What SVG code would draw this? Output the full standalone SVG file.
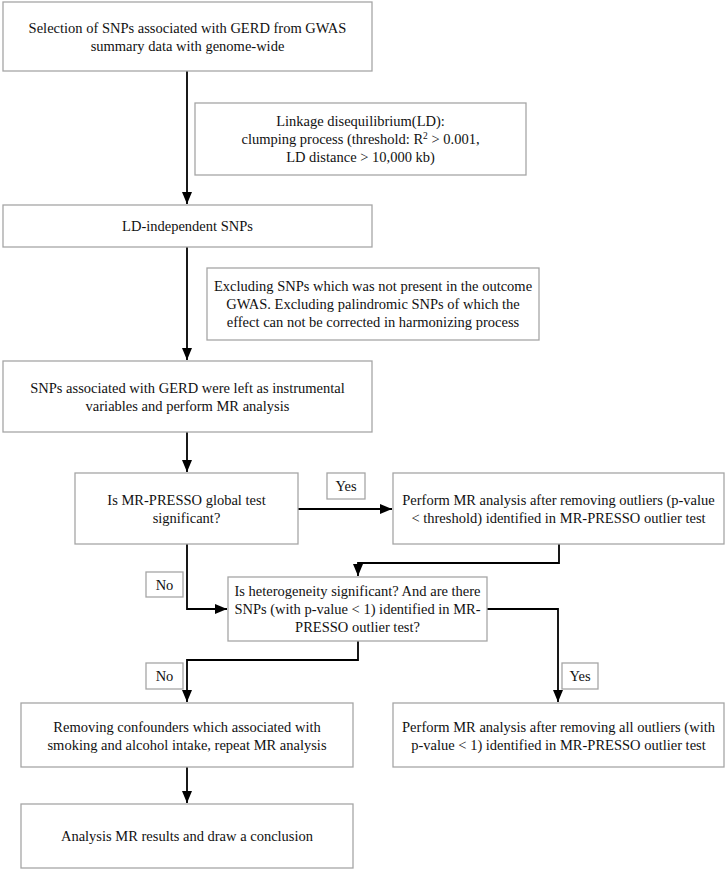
<svg xmlns="http://www.w3.org/2000/svg" width="726" height="870" viewBox="0 0 726 870">
<style>
  .box { fill: #ffffff; stroke: #a6a6a6; stroke-width: 1.3; }
  .lbl { fill: #ffffff; stroke: #a6a6a6; stroke-width: 1.3; }
  .t { font-family: "Liberation Serif", "Times New Roman", serif; font-size: 14.5px; fill: #111111; text-anchor: middle; }
  .c { fill: none; stroke: #000000; stroke-width: 1.8; }
</style>
<defs>
  <marker id="ah" markerUnits="userSpaceOnUse" markerWidth="12" markerHeight="10" refX="12" refY="5" orient="auto">
    <path d="M0,0 L12,5 L0,10 z" fill="#000000"/>
  </marker>
</defs>
<rect width="726" height="870" fill="#ffffff"/>

<g id="connectors">
  <path class="c" d="M187,71 V204" marker-end="url(#ah)"/>
  <path class="c" d="M187,247 V360" marker-end="url(#ah)"/>
  <path class="c" d="M187,432 V472" marker-end="url(#ah)"/>
  <path class="c" d="M298,509 H392" marker-end="url(#ah)"/>
  <path class="c" d="M559,544 V563 H358 V576" marker-end="url(#ah)"/>
  <path class="c" d="M187,544 V609 H227" marker-end="url(#ah)"/>
  <path class="c" d="M487,609 H558 V702" marker-end="url(#ah)"/>
  <path class="c" d="M358,641 V660 H187 V702" marker-end="url(#ah)"/>
  <path class="c" d="M187,767 V803" marker-end="url(#ah)"/>
</g>

<g id="n1">
  <rect class="box" x="3" y="2" width="369" height="69"/>
  <text class="t" x="187.5" y="32.5">Selection of SNPs associated with GERD from GWAS</text>
  <text class="t" x="187.5" y="50.5">summary data with genome-wide</text>
</g>

<g id="n2">
  <rect class="box" x="195" y="103" width="331" height="72"/>
  <text class="t" x="360.5" y="126">Linkage disequilibrium(LD):</text>
  <text class="t" x="360.5" y="144">clumping process (threshold: R<tspan dy="-5" font-size="9.5">2</tspan><tspan dy="5"> &gt; 0.001,</tspan></text>
  <text class="t" x="360.5" y="162">LD distance &gt; 10,000 kb)</text>
</g>

<g id="n3">
  <rect class="box" x="3" y="205" width="369" height="42"/>
  <text class="t" x="187.5" y="231">LD-independent SNPs</text>
</g>

<g id="n4">
  <rect class="box" x="207" y="268" width="332" height="72"/>
  <text class="t" x="373" y="291">Excluding SNPs which was not present in the outcome</text>
  <text class="t" x="373" y="309">GWAS. Excluding palindromic SNPs of which the</text>
  <text class="t" x="373" y="327">effect can not be corrected in harmonizing process</text>
</g>

<g id="n5">
  <rect class="box" x="3" y="361" width="369" height="71"/>
  <text class="t" x="187.5" y="393">SNPs associated with GERD were left as instrumental</text>
  <text class="t" x="187.5" y="411">variables and perform MR analysis</text>
</g>

<g id="n6">
  <rect class="box" x="75" y="473" width="223" height="71"/>
  <text class="t" x="186.5" y="505">Is MR-PRESSO global test</text>
  <text class="t" x="186.5" y="523">significant?</text>
</g>

<g id="l1">
  <rect class="lbl" x="327" y="473" width="38" height="26"/>
  <text class="t" x="346" y="491">Yes</text>
</g>

<g id="n7">
  <rect class="box" x="393" y="473" width="331" height="71"/>
  <text class="t" x="558.5" y="505">Perform MR analysis after removing outliers (p-value</text>
  <text class="t" x="558.5" y="523">&lt; threshold) identified in MR-PRESSO outlier test</text>
</g>

<g id="l2">
  <rect class="lbl" x="146" y="572" width="37" height="25"/>
  <text class="t" x="164.5" y="589.5">No</text>
</g>

<g id="n8">
  <rect class="box" x="228" y="577" width="259" height="64"/>
  <text class="t" x="357.5" y="596">Is heterogeneity significant? And are there</text>
  <text class="t" x="357.5" y="614">SNPs (with p-value &lt; 1) identified in MR-</text>
  <text class="t" x="357.5" y="632">PRESSO outlier test?</text>
</g>

<g id="l3">
  <rect class="lbl" x="146" y="663" width="37" height="26"/>
  <text class="t" x="164.5" y="681">No</text>
</g>

<g id="l4">
  <rect class="lbl" x="562" y="663" width="36" height="26"/>
  <text class="t" x="580" y="681">Yes</text>
</g>

<g id="n9">
  <rect class="box" x="21" y="703" width="332" height="64"/>
  <text class="t" x="187" y="732">Removing confounders which associated with</text>
  <text class="t" x="187" y="750">smoking and alcohol intake, repeat MR analysis</text>
</g>

<g id="n10">
  <rect class="box" x="393" y="703" width="331" height="64"/>
  <text class="t" x="558.5" y="732">Perform MR analysis after removing all outliers (with</text>
  <text class="t" x="558.5" y="750">p-value &lt; 1) identified in MR-PRESSO outlier test</text>
</g>

<g id="n11">
  <rect class="box" x="21" y="804" width="332" height="64"/>
  <text class="t" x="187" y="841">Analysis MR results and draw a conclusion</text>
</g>
</svg>
